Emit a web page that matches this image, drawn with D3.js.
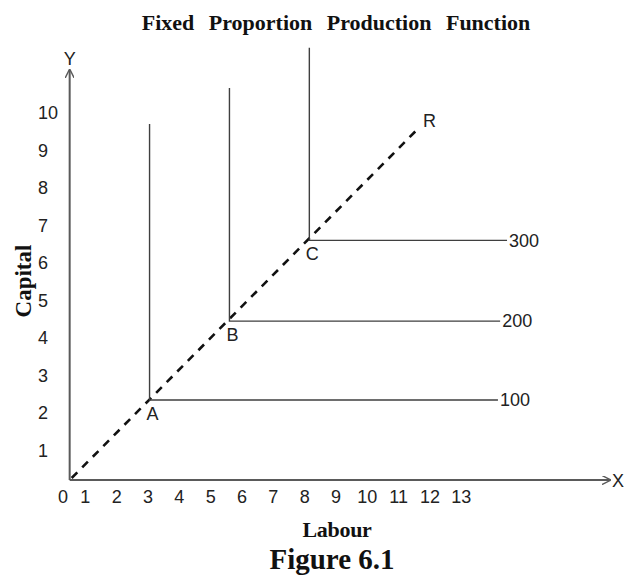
<!DOCTYPE html>
<html>
<head>
<meta charset="utf-8">
<script src="https://cdn.jsdelivr.net/npm/d3@7"></script>
<style>
  html, body { margin: 0; padding: 0; background: #ffffff; }
  svg { display: block; }
</style>
</head>
<body>
<svg id="chart" width="635" height="575"></svg>
<script>
// ---- data (in axis-label units) ----
const xTickLabels = [0,1,2,3,4,5,6,7,8,9,10,11,12,13];
const yTickLabels = [1,2,3,4,5,6,7,8,9,10];
const points = ["A","B","C"];
const pointX = [3.05, 5.6, 8.15];          // labour at the corner of each isoquant
const pointY = [2.35, 4.45, 6.6];          // capital at the corner
const verticalTop = [9.7, 10.66, 11.73];   // top end of the vertical arms
const horizontalEnd = [14.17, 14.24, 14.46]; // right end of the horizontal arms
const outputLabels = ["100","200","300"];
const rayEnd = [11.65, 9.6];               // point R
const axisOrigin = [0.5, 0.22];            // where the axes cross
const axisEnd = [17.75, 11.14];            // arrow tips of X and Y axes

const W = 635, H = 575;
const svg = d3.select("#chart");

const x = d3.scaleLinear().domain([0, 13]).range([54, 54 + 13 * 31.33]);
const y = d3.scaleLinear().domain([0, 10]).range([488.3, 488.3 - 10 * 37.56]);

const axisColor = "#5a5a5a";
const lineColor = "#3f3f3f";
const sans = "'Liberation Sans', Arial, sans-serif";
const serif = "'Liberation Serif', 'Times New Roman', serif";
const labelSize = 18;

// arrow marker
const defs = svg.append("defs");
defs.append("marker")
  .attr("id", "arrow")
  .attr("viewBox", "0 0 10 10")
  .attr("refX", 9).attr("refY", 5)
  .attr("markerWidth", 9).attr("markerHeight", 9)
  .attr("markerUnits", "userSpaceOnUse")
  .attr("orient", "auto")
  .append("path")
  .attr("d", "M0,0 L10,5 L0,10")
  .attr("fill", "none")
  .attr("stroke", axisColor)
  .attr("stroke-width", 1.6);

// title
svg.append("text")
  .attr("x", 336).attr("y", 30)
  .attr("text-anchor", "middle")
  .attr("font-family", serif)
  .attr("font-weight", "bold")
  .attr("font-size", 22)
  .attr("word-spacing", 9)
  .attr("fill", "#111")
  .text("Fixed Proportion Production Function");

// axes
const ox = x(axisOrigin[0]), oy = y(axisOrigin[1]);
svg.append("line")
  .attr("x1", ox).attr("y1", oy)
  .attr("x2", x(axisEnd[0])).attr("y2", oy)
  .attr("stroke", axisColor).attr("stroke-width", 2)
  .attr("marker-end", "url(#arrow)");
svg.append("line")
  .attr("x1", ox).attr("y1", oy)
  .attr("x2", ox).attr("y2", y(axisEnd[1]))
  .attr("stroke", axisColor).attr("stroke-width", 2)
  .attr("marker-end", "url(#arrow)");

svg.append("text")
  .attr("x", x(axisEnd[0]) + 2).attr("y", oy + 7)
  .attr("font-family", sans).attr("font-size", labelSize).attr("fill", "#222")
  .text("X");
svg.append("text")
  .attr("x", ox).attr("y", y(axisEnd[1]) - 5)
  .attr("text-anchor", "middle")
  .attr("font-family", sans).attr("font-size", labelSize).attr("fill", "#222")
  .text("Y");

// tick labels
svg.append("g").selectAll("text")
  .data(xTickLabels).join("text")
  .attr("x", d => x(d) + (d === 0 ? 9 : 0))
  .attr("y", 503)
  .attr("text-anchor", "middle")
  .attr("font-family", sans).attr("font-size", labelSize).attr("fill", "#222")
  .text(d => d);

svg.append("g").selectAll("text")
  .data(yTickLabels).join("text")
  .attr("x", 38)
  .attr("y", d => y(d))
  .attr("dy", "0.35em")
  .attr("text-anchor", "start")
  .attr("font-family", sans).attr("font-size", labelSize).attr("fill", "#222")
  .text(d => d);

// expansion path (dashed ray)
svg.append("line")
  .attr("x1", ox + 2).attr("y1", oy - 2)
  .attr("x2", x(rayEnd[0])).attr("y2", y(rayEnd[1]))
  .attr("stroke", "#111").attr("stroke-width", 2.6)
  .attr("stroke-dasharray", "8,7");

svg.append("text")
  .attr("x", x(rayEnd[0]) + 4).attr("y", y(rayEnd[1]) - 1)
  .attr("font-family", sans).attr("font-size", labelSize).attr("fill", "#222")
  .text("R");

// isoquants (L-shaped)
const iso = points.map((p, i) => ({
  name: p, px: pointX[i], py: pointY[i],
  top: verticalTop[i], end: horizontalEnd[i], out: outputLabels[i]
}));

const g = svg.append("g");
g.selectAll("path.iso")
  .data(iso).join("path")
  .attr("class", "iso")
  .attr("d", d => d3.line()([
    [x(d.px), y(d.top)],
    [x(d.px), y(d.py)],
    [x(d.end), y(d.py)]
  ]))
  .attr("fill", "none")
  .attr("stroke", lineColor)
  .attr("stroke-width", 1.4);

g.selectAll("text.pt")
  .data(iso).join("text")
  .attr("class", "pt")
  .attr("x", d => x(d.px) + 3)
  .attr("y", d => y(d.py) + 20)
  .attr("text-anchor", "middle")
  .attr("font-family", sans).attr("font-size", labelSize).attr("fill", "#222")
  .text(d => d.name);

g.selectAll("text.out")
  .data(iso).join("text")
  .attr("class", "out")
  .attr("x", d => x(d.end) + 2)
  .attr("y", d => y(d.py))
  .attr("dy", "0.35em")
  .attr("font-family", sans).attr("font-size", labelSize).attr("fill", "#222")
  .text(d => d.out);

// axis titles
svg.append("text")
  .attr("transform", "translate(31,281) rotate(-90)")
  .attr("text-anchor", "middle")
  .attr("font-family", serif).attr("font-weight", "bold")
  .attr("font-size", 23).attr("fill", "#111")
  .text("Capital");

svg.append("text")
  .attr("x", 337).attr("y", 537)
  .attr("text-anchor", "middle")
  .attr("font-family", serif).attr("font-weight", "bold")
  .attr("font-size", 22).attr("letter-spacing", -0.3).attr("fill", "#111")
  .text("Labour");

svg.append("text")
  .attr("x", 332).attr("y", 569)
  .attr("text-anchor", "middle")
  .attr("font-family", serif).attr("font-weight", "bold")
  .attr("font-size", 29).attr("fill", "#111")
  .text("Figure 6.1");
</script>
</body>
</html>
